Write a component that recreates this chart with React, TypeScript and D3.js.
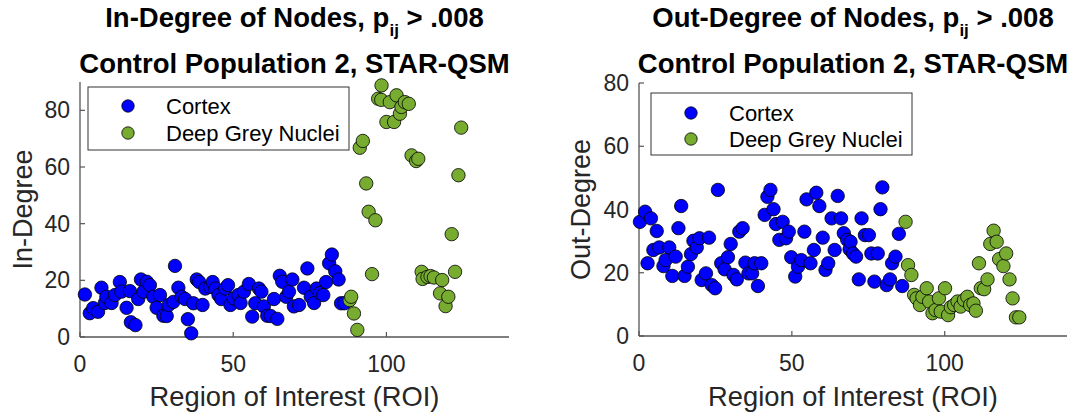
import React from 'react';
import * as d3 from 'd3';

// ROI index / degree pairs
const inCortex: [number, number][] = [
  [1.6, 15], [3.2, 8.4], [4.3, 10.2], [5.9, 8.9], [7, 17.4], [8.1, 12], [8.6, 14.2],
  [10.3, 12], [11.4, 14.8], [13, 19.4], [13.5, 16], [15.2, 10.3], [16.3, 16.2],
  [16.6, 5.2], [18.1, 4.2], [19, 13.4], [19.9, 20.3], [20.7, 16], [21.8, 19.5],
  [22.8, 18.3], [23.9, 14.2], [25, 10.3], [26.1, 14.8], [27.2, 7.5], [28.3, 7.4],
  [28.9, 11.3], [30.5, 12.4], [31, 25.1], [32.1, 17.4], [33.2, 14.2], [34.3, 13.4],
  [35.2, 6.3], [36.3, 1.3], [37, 11.9], [38.1, 20.3], [38.9, 19.4], [40, 11.3],
  [40.9, 17.1], [42.5, 17.7], [43.3, 19.4], [44.2, 17.1], [45.2, 14.8], [46.1, 13.4],
  [47.4, 17.1], [48.3, 18.3], [49.1, 11.3], [50.2, 13.6], [51.7, 14.8], [52.4, 12],
  [53.5, 16], [55.1, 18.7], [56.2, 7.2], [57.2, 11.9], [58.4, 17.1], [59.2, 16],
  [60, 10.8], [61.1, 7.5], [62.2, 7.4], [63.3, 13.4], [64.4, 6.4], [65.2, 21.6],
  [66, 19.5], [67.3, 14.2], [68.2, 16], [69.3, 20.3], [69.8, 10.8], [71.5, 11.3],
  [73.1, 17.4], [74.2, 24.2], [75.3, 14.2], [76.4, 12], [77.2, 17.1], [78.3, 15.5],
  [79.4, 14.8], [80.3, 19.4], [81.3, 26], [82.2, 29.1], [83.3, 23.2], [84.4, 20.3],
  [85.2, 11.9], [86.3, 11.9],
];

const inDeepGrey: [number, number][] = [
  [88, 13], [88.5, 14.2], [89.4, 8.3], [90.5, 2.5], [91.3, 66.8], [92.3, 69.2],
  [93.4, 54.2], [94.2, 44.2], [95.3, 22.2], [96.4, 41.2], [97.3, 84.1], [98.3, 83.7],
  [98.4, 88.8], [100, 75.9], [101.1, 82.9], [102.5, 75.9], [103.3, 85.3], [104.4, 78.8],
  [104.9, 81.2], [106, 82.9], [107.3, 82.3], [108.2, 64.1], [109.7, 62.1], [110.4, 62.9],
  [111.5, 23], [111.8, 20.5], [113.4, 21.2], [114.4, 21.5], [115.5, 21], [117.5, 15.4],
  [118.2, 20.1], [119.3, 10.9], [120.2, 14.2], [121.3, 36.3], [122.4, 23], [123.5, 57.1],
  [124.4, 73.9],
];

const outCortex: [number, number][] = [
  [0.3, 36.1], [2, 39.3], [2.8, 23], [3.9, 37.2], [4.7, 27.2], [5.8, 33.2], [6.6, 28],
  [8, 22.1], [8.7, 24], [9.9, 28], [10.9, 19], [12, 25.1], [12.9, 34.1], [13.8, 41.1],
  [14.9, 19], [16, 21.9], [17, 25.9], [17.8, 30.1], [18.9, 28], [19.8, 30.9],
  [20.5, 17.7], [21.9, 19.8], [22.9, 31.1], [23.8, 16.1], [24.9, 15.1], [25.8, 46.2],
  [26.9, 23], [28, 21.1], [29.1, 24.9], [30, 29.1], [30.9, 19.3], [32, 17.9],
  [32.8, 33], [33.9, 34.1], [34.8, 23.2], [35.8, 19.8], [37, 19.8], [37.8, 23],
  [38.9, 15.8], [40, 23], [41.1, 38.3], [42, 44], [43, 46.2], [44, 40.1], [44.8, 35.4],
  [45.9, 30.4], [47, 36.1], [48.1, 30.9], [49, 33], [49.8, 24.9], [51.1, 18.8],
  [52, 21.9], [53.1, 24], [54.1, 33], [54.8, 43.2], [56.1, 23], [57.2, 27.2],
  [58, 45.3], [59, 41.1], [60.1, 31.1], [61, 20.9], [61.9, 23], [63, 37.2], [64, 27.2],
  [65, 44.3], [66.1, 37.2], [67, 32.5], [68.1, 30.4], [68.9, 27.4], [69.2, 29.8],
  [70, 26.1], [71, 25.1], [71.9, 17.9], [72.8, 37.2], [73.9, 31.9], [75.2, 31.9],
  [76, 26.1], [77, 17.2], [78.1, 26.1], [79, 40.1], [79.6, 47], [81, 16.1],
  [82.1, 17.9], [82.8, 23], [83.9, 25.1], [85, 32.3], [86.1, 15.8],
];

const outDeepGrey: [number, number][] = [
  [87.2, 36.1], [88, 22.4], [89.1, 19.3], [90, 13], [90.8, 11.9], [91.9, 9.8],
  [92.7, 12.4], [94.1, 15.1], [94.9, 10.9], [96, 7.2], [97, 8.2], [98.1, 11.9],
  [98.7, 7.7], [100.1, 15.1], [101.1, 6.6], [102, 9.1], [103.1, 9.8], [104.2, 10.9],
  [105.2, 9.3], [106.3, 11.4], [107.4, 12.4], [108.3, 9.8], [109.4, 10.3], [110.2, 8],
  [111.2, 23], [111.8, 15.1], [112.9, 14.8], [114, 17.9], [114.9, 29.1], [116, 33.3],
  [117, 29.8], [117.8, 24.3], [119.2, 22.1], [120.1, 26.1], [121.2, 17.9],
  [122.2, 11.9], [123.3, 5.9], [124.4, 5.9],
];

const xTicks = [0, 50, 100];
const inYTicks = [0, 20, 40, 60, 80];
const outYTicks = [0, 20, 40, 60, 80];
const seriesNames = ['Cortex', 'Deep Grey Nuclei'];

const FONT = "Arial, 'Liberation Sans', Helvetica, sans-serif";
const TEXT = '#262626';
const AXIS = '#555555';
const BLUE = '#0000ff';
const GREEN = '#77ac30';

interface PanelProps {
  x0: number; x1: number; yTop: number; yBot: number;
  yMax: number; yTicks: number[];
  measure: string; yLabel: string; yLabelX: number;
  cortex: [number, number][]; deepGrey: [number, number][];
  legend: { x: number; y: number; w: number; h: number; rows: number[] };
}

const Panel: React.FC<PanelProps> = (p) => {
  const x = d3.scaleLinear().domain([0, 140]).range([p.x0, p.x1]);
  const y = d3.scaleLinear().domain([0, p.yMax]).range([p.yBot, p.yTop]);
  const cx = (p.x0 + p.x1) / 2;
  const cy = (p.yTop + p.yBot) / 2;

  return (
    <g>
      {/* title */}
      <text x={cx} y={27} textAnchor="middle" fontSize={27.5} fontWeight="bold" fill="#000">
        {p.measure} of Nodes, p
        <tspan fontSize={17} dy={9}>ij</tspan>
        <tspan dy={-9}> &gt; .008</tspan>
      </text>
      <text x={cx} y={73} textAnchor="middle" fontSize={27.5} fontWeight="bold" fill="#000">
        Control Population 2, STAR-QSM
      </text>

      {/* axes */}
      <line x1={p.x0} x2={p.x0} y1={p.yTop} y2={p.yBot} stroke={AXIS} strokeWidth={1.3} />
      <line x1={p.x0} x2={p.x1} y1={p.yBot} y2={p.yBot} stroke={AXIS} strokeWidth={1.3} />
      {p.yTicks.map((t) => (
        <g key={'y' + t}>
          <line x1={p.x0} x2={p.x0 + 5} y1={y(t)} y2={y(t)} stroke={AXIS} strokeWidth={1.2} />
          <text x={p.x0 - 10} y={y(t) + 8} textAnchor="end" fontSize={23} fill={TEXT}>{t}</text>
        </g>
      ))}
      {xTicks.map((t) => (
        <g key={'x' + t}>
          <line x1={x(t)} x2={x(t)} y1={p.yBot} y2={p.yBot - 5} stroke={AXIS} strokeWidth={1.2} />
          <text x={x(t)} y={p.yBot + 35} textAnchor="middle" fontSize={23} fill={TEXT}>{t}</text>
        </g>
      ))}
      <text x={cx} y={406} textAnchor="middle" fontSize={27.3} fill={TEXT}>Region of Interest (ROI)</text>
      <text transform={`translate(${p.yLabelX},${cy}) rotate(-90)`} textAnchor="middle" fontSize={27} fill={TEXT}>
        {p.yLabel}
      </text>

      {/* points */}
      {p.cortex.map((d, i) => (
        <circle key={'c' + i} cx={x(d[0])} cy={y(d[1])} r={6.7} fill={BLUE} stroke="#000" strokeWidth={0.8} />
      ))}
      {p.deepGrey.map((d, i) => (
        <circle key={'g' + i} cx={x(d[0])} cy={y(d[1])} r={6.7} fill={GREEN} stroke="#000" strokeWidth={0.8} />
      ))}

      {/* legend */}
      <rect x={p.legend.x} y={p.legend.y} width={p.legend.w} height={p.legend.h} fill="#fff" stroke="#333" strokeWidth={1} />
      {seriesNames.map((name, i) => (
        <g key={name}>
          <circle cx={p.legend.x + 40} cy={p.legend.rows[i]} r={6.2} fill={i === 0 ? BLUE : GREEN} stroke="#000" strokeWidth={0.8} />
          <text x={p.legend.x + 78} y={p.legend.rows[i] + 7.5} fontSize={22} fill="#000">{name}</text>
        </g>
      ))}
    </g>
  );
};

export default function App() {
  return (
    <svg width={1072} height={415} style={{ position: 'absolute', left: 0, top: 0, background: '#fff' }} fontFamily={FONT}>
      <Panel
        x0={80} x1={509} yTop={82} yBot={337} yMax={90} yTicks={inYTicks}
        measure="In-Degree" yLabel="In-Degree" yLabelX={32}
        cortex={inCortex} deepGrey={inDeepGrey}
        legend={{ x: 88, y: 87, w: 261, h: 63, rows: [106, 133] }}
      />
      <Panel
        x0={639} x1={1067} yTop={83} yBot={336} yMax={80} yTicks={outYTicks}
        measure="Out-Degree" yLabel="Out-Degree" yLabelX={590}
        cortex={outCortex} deepGrey={outDeepGrey}
        legend={{ x: 651, y: 93, w: 261, h: 62, rows: [113, 139] }}
      />
    </svg>
  );
}
